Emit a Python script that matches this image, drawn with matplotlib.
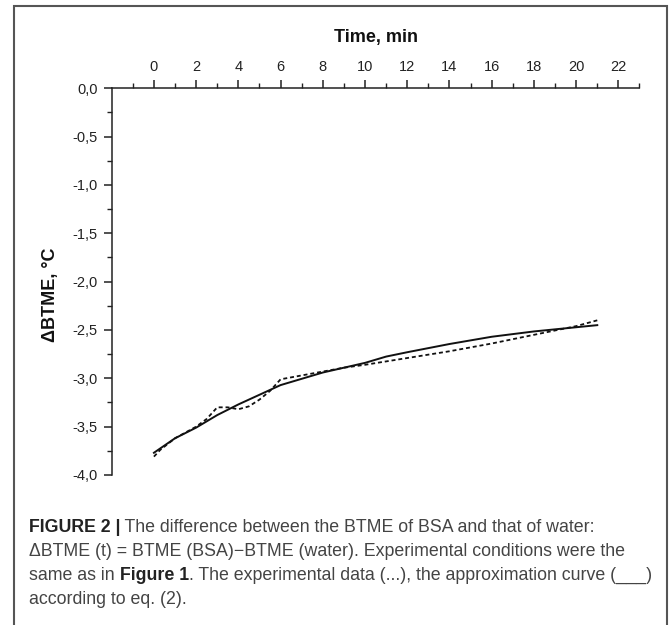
import numpy as np
import matplotlib
matplotlib.use("Agg")
import matplotlib.pyplot as plt
from matplotlib.patches import Rectangle
from matplotlib.ticker import MultipleLocator, FuncFormatter, FixedLocator

plt.rcParams['font.family'] = ['Liberation Sans', 'DejaVu Sans']

# approximation curve, eq. (2)
t_fit = [0, 1, 2, 3, 4, 5, 6, 8, 10, 11, 12, 14, 16, 18, 21]
dbtme_fit = [-3.77, -3.62, -3.51, -3.38, -3.27, -3.17, -3.07, -2.94, -2.84, -2.775,
             -2.73, -2.645, -2.57, -2.515, -2.45]

# experimental data
t_exp = [0, 0.3, 1, 2, 2.5, 3, 3.5, 4, 4.5, 5, 5.5, 6, 7, 8, 9, 10, 12, 14, 16, 18, 20, 21]
dbtme_exp = [-3.81, -3.74, -3.62, -3.50, -3.42, -3.30, -3.30, -3.32, -3.29, -3.22,
             -3.13, -3.01, -2.97, -2.93, -2.89, -2.86, -2.79, -2.72, -2.64, -2.55,
             -2.46, -2.40]

x_major = list(range(0, 23, 2))
x_minor = list(range(-1, 24, 2))

W, H = 669, 625
fig = plt.figure(figsize=(W / 100, H / 100), dpi=100)

# frame around the figure panel
fig.patches.append(Rectangle((14 / W, -0.1), (667 - 14) / W, 1.1 - 6 / H,
                             transform=fig.transFigure, fill=False,
                             edgecolor='#555555', linewidth=1.5, clip_on=False))

ax = fig.add_axes([111.7 / W, 150 / H, (639.5 - 111.7) / W, (475 - 88.3) / H])
ax.plot(t_exp, dbtme_exp, color='#111111', linewidth=1.3, linestyle=(0, (2.2, 1.6)))
ax.plot(t_fit, dbtme_fit, color='#111111', linewidth=1.4)

ax.set_xlim(-2, 23)
ax.set_ylim(-4.0, 0.0)
ax.spines['right'].set_visible(False)
ax.spines['bottom'].set_visible(False)
for s in ['top', 'left']:
    ax.spines[s].set_linewidth(1.1)
    ax.spines[s].set_color('#222222')

ax.xaxis.tick_top()
ax.xaxis.set_label_position('top')
ax.xaxis.set_major_locator(FixedLocator(x_major))
ax.xaxis.set_minor_locator(FixedLocator(x_minor))
ax.yaxis.set_major_locator(MultipleLocator(0.5))
ax.yaxis.set_minor_locator(MultipleLocator(0.25))
ax.yaxis.set_major_formatter(FuncFormatter(lambda v, p: f"{v:.1f}".replace('.', ',').replace('-0,0', '0,0')))
ax.tick_params(which='major', direction='out', length=6, width=1.1, color='#222222',
               labelsize=10.5, labelcolor='#222222', pad=4)
ax.tick_params(which='minor', direction='out', length=3.5, width=1.0, color='#222222')
ax.tick_params(axis='x', which='both', top=True, bottom=False, labeltop=True, labelbottom=False)

ax.set_xlabel('Time, min', fontsize=13, fontweight='bold', labelpad=13, color='#111111')
fig.text(50 / W, 1 - 295 / H, 'ΔBTME, °C', rotation=90, ha='center', va='center',
         fontsize=13, fontweight='bold', color='#111111')

# caption, with bold runs
caption = [
    [("FIGURE 2 |", 'bold'), (" The difference between the BTME of BSA and that of water:", 'normal')],
    [("ΔBTME (t) = BTME (BSA)\u2212BTME (water). Experimental conditions were the", 'normal')],
    [("same as in ", 'normal'), ("Figure 1", 'bold'),
     (". The experimental data (...), the approximation curve (___)", 'normal')],
    [("according to eq. (2).", 'normal')],
]
line_y = [527, 551, 575, 600]
renderer = fig.canvas.get_renderer()
for runs, yp in zip(caption, line_y):
    xp = 29
    for txt, wt in runs:
        t = fig.text(xp / W, 1 - yp / H, txt, ha='left', va='center', fontsize=12.8,
                     fontweight=wt, color='#222222' if wt == 'bold' else '#444444')
        xp += t.get_window_extent(renderer).width

fig.savefig('out.png', dpi=100)
